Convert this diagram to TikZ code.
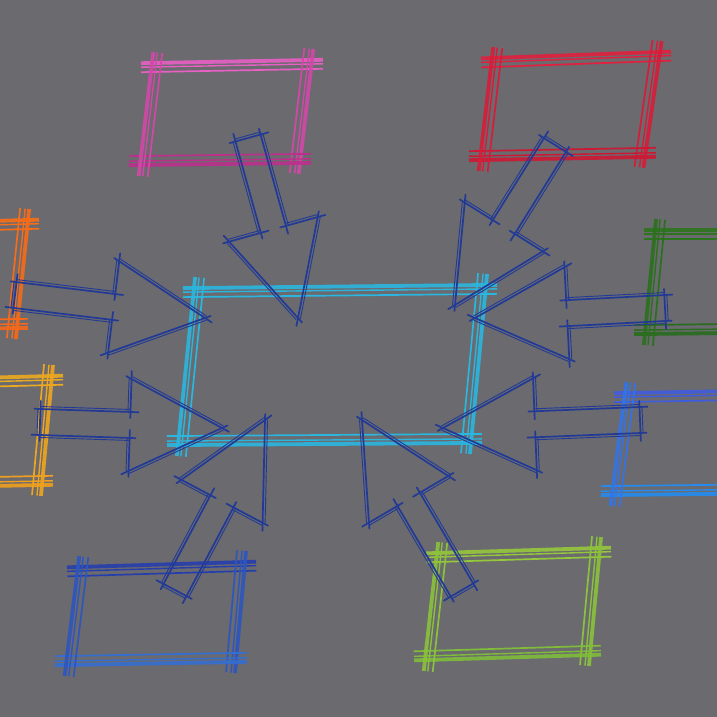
\documentclass[tikz,border=0pt]{standalone}
\usepackage{tikz}
\usetikzlibrary{calc}
\usepackage{xcolor}

\definecolor{paper}{RGB}{106,106,111}
\definecolor{hubcyan}{RGB}{42,182,222}
\definecolor{ink}{RGB}{34,58,150}
\definecolor{pinkA}{RGB}{232,96,196}
\definecolor{pinkB}{RGB}{188,48,140}
\definecolor{redA}{RGB}{226,32,62}
\definecolor{redB}{RGB}{205,24,52}
\definecolor{forestA}{RGB}{44,116,30}
\definecolor{forestB}{RGB}{40,108,28}
\definecolor{royalA}{RGB}{64,92,222}
\definecolor{royalB}{RGB}{36,140,240}
\definecolor{limeA}{RGB}{150,200,60}
\definecolor{limeB}{RGB}{128,188,58}
\definecolor{navyA}{RGB}{38,62,172}
\definecolor{navyB}{RGB}{52,110,208}
\definecolor{amberA}{RGB}{236,170,32}
\definecolor{amberB}{RGB}{240,160,30}
\definecolor{orangeA}{RGB}{250,110,22}
\definecolor{orangeB}{RGB}{246,104,26}

\tikzset{
  pencil/.style={ink, line width=1.7pt, line cap=round},
  pencilthin/.style={ink, line width=.9pt, line cap=round}
}

\newcommand\roughedge[3]{%
  \path ($(#2)!-11pt!(#3)$) coordinate (re-a) ($(#3)!-11pt!(#2)$) coordinate (re-b);
  \draw[#1, line width=3.8pt, opacity=.9] (re-a) -- (re-b);
  \draw[#1, line width=1.4pt] ($(re-a)!4pt!-90:(re-b)$) -- ($(re-b)!4pt!90:(re-a)$);
  \draw[#1, line width=1.7pt] ($(re-a)!9pt!-90:(re-b)$) -- ($(re-b)!9pt!90:(re-a)$);
}

\newcommand\sketchbox[7]{%
  \path #2 coordinate (#1-1) #3 coordinate (#1-2) #4 coordinate (#1-3) #5 coordinate (#1-4);
  \roughedge{#6}{#1-1}{#1-2}
  \roughedge{#6!50!#7}{#1-2}{#1-3}
  \roughedge{#7}{#1-3}{#1-4}
  \roughedge{#6!50!#7}{#1-4}{#1-1}
}

\newcommand\roughseg[2]{%
  \draw[pencil] ($(#1)!-6pt!(#2)$) -- ($(#2)!-8pt!(#1)$);
  \draw[pencilthin] ($(#1)!2.5pt!90:(#2)$) -- ($(#2)!2.5pt!-90:(#1)$);
}

\newcommand\blockarrow[2]{%
  \path ($(#2)!92pt!(#1)$) coordinate (ba-b);
  \path ($(ba-b)!46pt!90:(#2)$) coordinate (ba-h1)
        ($(ba-b)!46pt!-90:(#2)$) coordinate (ba-h2)
        ($(ba-b)!13pt!90:(#2)$) coordinate (ba-s1)
        ($(ba-b)!13pt!-90:(#2)$) coordinate (ba-s2)
        ($(#1)!13pt!90:(#2)$) coordinate (ba-t1)
        ($(#1)!13pt!-90:(#2)$) coordinate (ba-t2);
  \roughseg{ba-t1}{ba-s1}
  \roughseg{ba-s1}{ba-h1}
  \roughseg{ba-h1}{#2}
  \roughseg{#2}{ba-h2}
  \roughseg{ba-h2}{ba-s2}
  \roughseg{ba-s2}{ba-t2}
  \roughseg{ba-t2}{ba-t1}
}

\begin{document}
\begin{tikzpicture}[x=1pt, y=-1pt]
  \useasboundingbox (0,0) rectangle (717,717);
  \fill[paper] (0,0) rectangle (717,717);
  \clip (0,0) rectangle (717,717);

  % hub and the boxes round it
  \sketchbox{hub}{(194,288)}{(486,285)}{(471,443)}{(178,445)}{hubcyan}{hubcyan}
  \sketchbox{pink}{(152,63)}{(312,60)}{(300,163)}{(140,165)}{pinkA}{pinkB}
  \sketchbox{red}{(492,58)}{(660,52)}{(645,157)}{(480,160)}{redA}{redB}
  \sketchbox{forest}{(655,230)}{(820,230)}{(810,332)}{(645,334)}{forestA}{forestB}
  \sketchbox{royal}{(625,393)}{(800,390)}{(790,493)}{(612,495)}{royalA}{royalB}
  \sketchbox{lime}{(437,553)}{(600,548)}{(590,655)}{(425,660)}{limeA}{limeB}
  \sketchbox{navy}{(78,567)}{(245,562)}{(236,662)}{(66,665)}{navyA}{navyB}
  \sketchbox{amber}{(-100,380)}{(52,376)}{(42,485)}{(-110,488)}{amberA}{amberB}
  \sketchbox{orange}{(-120,224)}{(28,220)}{(17,328)}{(-130,330)}{orangeA}{orangeB}

  % arrow ends
  \coordinate (pinkTail) at (248,138);
  \coordinate (hubPink) at (298,318);
  \coordinate (redTail) at (555,145);
  \coordinate (hubRed) at (455,305);
  \coordinate (forestTail) at (665,308);
  \coordinate (hubForest) at (475,318);
  \coordinate (royalTail) at (640,420);
  \coordinate (hubRoyal) at (443,428);
  \coordinate (limeTail) at (462,590);
  \coordinate (hubLime) at (362,420);
  \coordinate (navyTail) at (175,590);
  \coordinate (hubNavy) at (265,420);
  \coordinate (amberTail) at (40,422);
  \coordinate (hubAmber) at (222,428);
  \coordinate (orangeTail) at (15,295);
  \coordinate (hubOrange) at (205,318);

  \blockarrow{pinkTail}{hubPink}
  \blockarrow{redTail}{hubRed}
  \blockarrow{forestTail}{hubForest}
  \blockarrow{royalTail}{hubRoyal}
  \blockarrow{limeTail}{hubLime}
  \blockarrow{navyTail}{hubNavy}
  \blockarrow{amberTail}{hubAmber}
  \blockarrow{orangeTail}{hubOrange}
\end{tikzpicture}
\end{document}
